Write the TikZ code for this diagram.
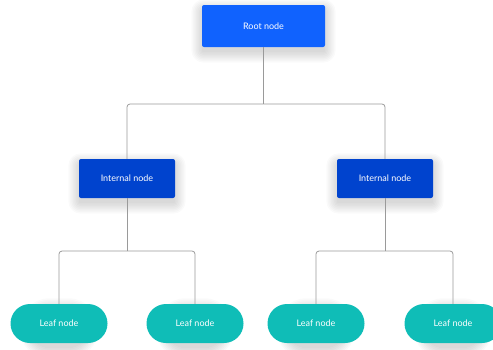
\documentclass[tikz,border=0pt]{standalone}
\usepackage{fontspec}
\setmainfont{Lato}
\usetikzlibrary{shapes.misc}
\pgfdeclarelayer{background}
\pgfsetlayers{background,main}
\definecolor{rootblue}{HTML}{1062FE}
\definecolor{intblue}{HTML}{0043CE}
\definecolor{leafteal}{HTML}{0FBDB7}
\definecolor{linegray}{HTML}{9A9A9A}
\tikzset{
  rootbox/.style={draw=none,fill=rootblue,rounded corners=2pt,minimum width=123pt,minimum height=42pt,text=white,font=\fontsize{9}{10}\selectfont,inner sep=0pt},
  intbox/.style={draw=none,fill=intblue,rounded corners=2pt,minimum width=96pt,minimum height=39pt,text=white,font=\fontsize{9}{10}\selectfont,inner sep=0pt},
  leafbox/.style={draw=none,fill=leafteal,rounded rectangle,minimum width=97pt,minimum height=39pt,text=white,font=\fontsize{9}{10}\selectfont,inner sep=0pt},
  conn/.style={draw=linegray,line width=0.8pt,rounded corners=3pt},
  shadowlayer/.style={fill=black,fill opacity=0.018,draw=none}
}
\newcommand{\mysoftshadow}[2]{%
  \begin{pgfonlayer}{background}
  \foreach \i in {0,1.5,...,10.5}{
    \fill[shadowlayer,rounded corners=#2+\i pt]
      ([shift={(-\i,-\i+5)}]#1.north west) rectangle ([shift={(\i,\i+5)}]#1.south east);
  }
  \end{pgfonlayer}}
\begin{document}
\begin{tikzpicture}[x=1pt,y=-1pt]
\useasboundingbox (0,0) rectangle (493,349);
\node[rootbox] (root) at (263.5,26) {Root node};
\node[intbox] (intL) at (127,178.5) {Internal node};
\node[intbox] (intR) at (385,178.5) {Internal node};
\node[leafbox] (leaf1) at (59,323.5) {Leaf node};
\node[leafbox] (leaf2) at (195,323.5) {Leaf node};
\node[leafbox] (leaf3) at (316,323.5) {Leaf node};
\node[leafbox] (leaf4) at (453,323.5) {Leaf node};
\mysoftshadow{root}{2}
\mysoftshadow{intL}{2}
\mysoftshadow{intR}{2}
\mysoftshadow{leaf1}{19.5}
\mysoftshadow{leaf2}{19.5}
\mysoftshadow{leaf3}{19.5}
\mysoftshadow{leaf4}{19.5}
\coordinate (j0) at (263.5,104);
\coordinate (jL) at (127,251);
\coordinate (jR) at (385,251);
\draw[conn] (root.south) -- (j0);
\draw[conn] (j0) -| (intL.north);
\draw[conn] (j0) -| (intR.north);
\draw[conn] (intL.south) -- (jL);
\draw[conn] (jL) -| (leaf1.north);
\draw[conn] (jL) -| (leaf2.north);
\draw[conn] (intR.south) -- (jR);
\draw[conn] (jR) -| (leaf3.north);
\draw[conn] (jR) -| (leaf4.north);
\end{tikzpicture}
\end{document}
